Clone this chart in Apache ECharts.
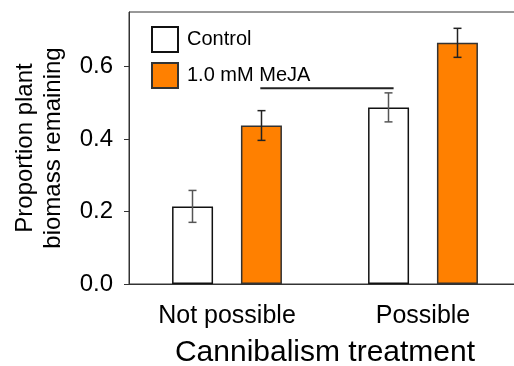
<!DOCTYPE html>
<html>
<head>
<meta charset="utf-8">
<script src="https://cdn.jsdelivr.net/npm/echarts@6/dist/echarts.min.js"></script>
<style>
html,body{margin:0;padding:0;background:#fff;}
#chart{width:514px;height:366px;}
</style>
</head>
<body>
<div id="chart"></div>
<script>
// ---- data ----
const categories = ['Not possible', 'Possible'];
const seriesNames = ['Control', '1.0 mM MeJA'];
const controlValues = [0.214, 0.487];
const controlErrors = [0.044, 0.040];
const mejaValues = [0.437, 0.665];
const mejaErrors = [0.041, 0.040];
const yTicks = [0, 0.2, 0.4, 0.6];
const yTickLabels = ['0.0', '0.2', '0.4', '0.6'];
// significance bar, in units of a [0, 2] value axis spanning the two categories
const sigLine = [[0.67, 0.54], [1.35, 0.54]];

const FONT = 'Liberation Sans, Arial, sans-serif';
const BAR_W = 41;
const BAR_OFF = 34.5;

function errorSeries(values, errors, offset, color) {
  return {
    type: 'custom',
    z: 5,
    silent: true,
    data: values.map((v, i) => [i, v, errors[i]]),
    renderItem: function (params, api) {
      const i = api.value(0), v = api.value(1), e = api.value(2);
      const top = api.coord([i, v + e]);
      const bot = api.coord([i, v - e]);
      const x = top[0] + offset;
      const cap = 4;
      const st = { stroke: color, lineWidth: 1.5 };
      return {
        type: 'group',
        children: [
          { type: 'line', shape: { x1: x, y1: top[1], x2: x, y2: bot[1] }, style: st },
          { type: 'line', shape: { x1: x - cap, y1: top[1], x2: x + cap, y2: top[1] }, style: st },
          { type: 'line', shape: { x1: x - cap, y1: bot[1], x2: x + cap, y2: bot[1] }, style: st }
        ]
      };
    }
  };
}

const chart = echarts.init(document.getElementById('chart'), null, { renderer: 'canvas' });
chart.setOption({
  animation: false,
  textStyle: { fontFamily: FONT, color: '#000' },
  grid: { left: 129, top: 12, width: 392, height: 272, show: true, borderColor: '#333', borderWidth: 1, containLabel: false, outerBoundsMode: 'none' },
  legend: {
    data: seriesNames,
    orient: 'vertical',
    left: 146,
    top: 21,
    icon: 'rect',
    itemWidth: 26,
    itemHeight: 25,
    itemGap: 9,
    textStyle: { fontSize: 20, fontFamily: FONT, color: '#000', padding: [8, 0, 0, 4] }
  },
  xAxis: [{
    type: 'category',
    data: categories,
    axisLine: { lineStyle: { color: '#333', width: 1 } },
    axisTick: { alignWithLabel: true, length: 4, lineStyle: { color: '#666' } },
    axisLabel: { fontSize: 25, color: '#000', margin: 20, fontFamily: FONT },
    name: 'Cannibalism treatment',
    nameLocation: 'middle',
    nameGap: 54,
    nameTextStyle: { fontSize: 30, color: '#000', fontFamily: FONT }
  }, {
    type: 'value',
    min: 0,
    max: 2,
    show: false
  }],
  yAxis: {
    type: 'value',
    min: 0,
    max: 0.75,
    axisLine: { show: true, lineStyle: { color: '#333', width: 1 } },
    axisTick: { show: true, length: 5, lineStyle: { color: '#333' }, customValues: yTicks },
    axisLabel: {
      fontSize: 24, color: '#000', margin: 16, fontFamily: FONT,
      customValues: yTicks,
      formatter: function (v) { const k = yTicks.findIndex(t => Math.abs(t - v) < 1e-9); return k >= 0 ? yTickLabels[k] : ''; }
    },
    splitLine: { show: false },
    name: 'Proportion plant\nbiomass remaining',
    nameLocation: 'middle',
    nameGap: 62,
    nameTextStyle: { fontSize: 24, lineHeight: 28, color: '#000', fontFamily: FONT }
  },
  series: [
    {
      name: seriesNames[0], type: 'bar', data: controlValues,
      barWidth: BAR_W, barGap: '68%',
      itemStyle: { color: '#ffffff', borderColor: '#111', borderWidth: 1.5 }
    },
    {
      name: seriesNames[1], type: 'bar', data: mejaValues,
      barWidth: BAR_W,
      itemStyle: { color: '#FF8000', borderColor: '#333', borderWidth: 1.5 }
    },
    errorSeries(controlValues, controlErrors, -BAR_OFF, '#555'),
    errorSeries(mejaValues, mejaErrors, BAR_OFF, '#222'),
    {
      type: 'line', xAxisIndex: 1, yAxisIndex: 0, data: sigLine,
      symbol: 'none', silent: true,
      lineStyle: { color: '#222', width: 2 }
    }
  ]
});
</script>
</body>
</html>
